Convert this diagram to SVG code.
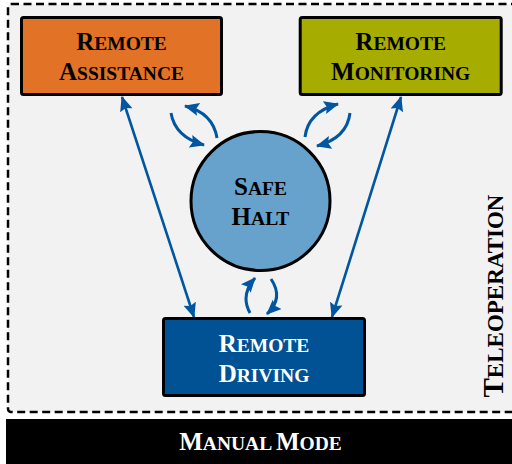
<svg xmlns="http://www.w3.org/2000/svg" width="512" height="464" viewBox="0 0 512 464">
  <style>
    .lbl { font-family: "Liberation Serif", "Times New Roman", serif; font-weight: bold; text-anchor: middle; }
    .big { font-size: 25px; }
    .sm { font-size: 19.5px; }
    .box { stroke: #000; stroke-width: 3; }
    .conn { fill: none; stroke: #0056A0; stroke-width: 2.6; }
    .curv { fill: none; stroke: #0056A0; stroke-width: 3; }
  </style>
  <defs>
    <marker id="ah" viewBox="0 0 15 13" refX="14" refY="6.5" markerWidth="15" markerHeight="13" markerUnits="userSpaceOnUse" orient="auto-start-reverse">
      <path d="M0,0 L15,6.5 L0,13 L2.5,6.5 z" fill="#0056A0"/>
    </marker>
  </defs>
  <rect x="0" y="0" width="512" height="464" fill="#ffffff"/>
  <g id="teleoperation-frame">
    <rect x="8" y="4" width="520" height="408" rx="3" fill="#F2F2F2" stroke="#000" stroke-width="2.5" stroke-dasharray="8,4.5"/>
    <text class="lbl" transform="translate(503,296) rotate(-90)"><tspan font-size="29">T</tspan><tspan font-size="23">ELEOPERATION</tspan></text>
  </g>
  <g id="manual-mode">
    <rect x="6" y="419" width="506" height="45" fill="#000"/>
    <text class="lbl" x="260.5" y="450" fill="#fff"><tspan class="big">M</tspan><tspan class="sm">ANUAL </tspan><tspan class="big">M</tspan><tspan class="sm">ODE</tspan></text>
  </g>
  <g id="connectors">
    <line class="conn" x1="122" y1="97" x2="194" y2="317" marker-start="url(#ah)" marker-end="url(#ah)"/>
    <line class="conn" x1="401" y1="97" x2="332" y2="317" marker-start="url(#ah)" marker-end="url(#ah)"/>
    <path class="curv" d="M171,113 Q175,137 204,145" marker-end="url(#ah)"/>
    <path class="curv" d="M217,138 Q213,113 185,106" marker-end="url(#ah)"/>
    <path class="curv" d="M305,137 Q308,112 338,104" marker-end="url(#ah)"/>
    <path class="curv" d="M350,113 Q347,138 317,146" marker-end="url(#ah)"/>
    <path class="curv" d="M250,313 Q240,295 255,278" marker-end="url(#ah)"/>
    <path class="curv" d="M271,279 Q284,298 267,314" marker-end="url(#ah)"/>
  </g>
  <g id="remote-assistance">
    <rect class="box" x="21.5" y="17.5" width="200" height="77" rx="2" fill="#E27226"/>
    <text class="lbl" x="121.5" y="50" fill="#000"><tspan class="big">R</tspan><tspan class="sm">EMOTE</tspan></text>
    <text class="lbl" x="121.5" y="80" fill="#000"><tspan class="big">A</tspan><tspan class="sm">SSISTANCE</tspan></text>
  </g>
  <g id="remote-monitoring">
    <rect class="box" x="300.2" y="17.5" width="201" height="77" rx="2" fill="#A6AD00"/>
    <text class="lbl" x="400.7" y="50" fill="#000"><tspan class="big">R</tspan><tspan class="sm">EMOTE</tspan></text>
    <text class="lbl" x="400.7" y="80" fill="#000"><tspan class="big">M</tspan><tspan class="sm">ONITORING</tspan></text>
  </g>
  <g id="safe-halt">
    <circle class="box" cx="260.5" cy="201" r="69.5" fill="#66A2CB"/>
    <text class="lbl" x="260.5" y="195" fill="#000"><tspan class="big">S</tspan><tspan class="sm">AFE</tspan></text>
    <text class="lbl" x="260.5" y="225" fill="#000"><tspan class="big">H</tspan><tspan class="sm">ALT</tspan></text>
  </g>
  <g id="remote-driving">
    <rect class="box" x="163.5" y="318.5" width="201" height="77" rx="2" fill="#005294"/>
    <text class="lbl" x="264" y="352" fill="#fff"><tspan class="big">R</tspan><tspan class="sm">EMOTE</tspan></text>
    <text class="lbl" x="264" y="382" fill="#fff"><tspan class="big">D</tspan><tspan class="sm">RIVING</tspan></text>
  </g>
</svg>
